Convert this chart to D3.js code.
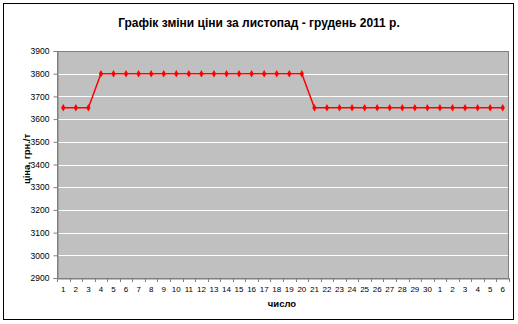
<!DOCTYPE html>
<html><head><meta charset="utf-8">
<script src="https://cdn.jsdelivr.net/npm/d3@7/dist/d3.min.js"></script>
<style>body{margin:0;background:#fff}svg{display:block}</style>
</head><body>
<svg id="c" width="518" height="324"></svg>
<script>
const categories = ["1","2","3","4","5","6","7","8","9","10","11","12","13","14","15","16","17","18","19","20","21","22","23","24","25","26","27","28","29","30","1","2","3","4","5","6"];
const prices = [3650,3650,3650,3800,3800,3800,3800,3800,3800,3800,3800,3800,3800,3800,3800,3800,3800,3800,3800,3800,3650,3650,3650,3650,3650,3650,3650,3650,3650,3650,3650,3650,3650,3650,3650,3650];
const yTicks = [2900,3000,3100,3200,3300,3400,3500,3600,3700,3800,3900];
const titleText = "Графік зміни ціни за листопад - грудень 2011 р.";
const yTitle = "ціна, грн./т";
const xTitle = "число";

const svg = d3.select("#c");
const M = {left:57, right:509, top:51, bottom:278};
const idx = categories.map((d,i)=>i);
const x = d3.scaleBand().domain(idx).range([M.left, M.right]);
const y = d3.scaleLinear().domain([2900,3900]).range([M.bottom, M.top]);

svg.append("rect").attr("x",3.5).attr("y",3.5).attr("width",510).attr("height",316)
  .attr("fill","#fff").attr("stroke","#000").attr("stroke-width",1);

svg.append("rect").attr("x",M.left).attr("y",M.top).attr("width",M.right-M.left).attr("height",M.bottom-M.top)
  .attr("fill","#c0c0c0");

svg.append("g").selectAll("line").data(yTicks.slice(1,-1)).join("line")
  .attr("x1",M.left).attr("x2",M.right).attr("y1",d=>Math.round(y(d))+0.5).attr("y2",d=>Math.round(y(d))+0.5)
  .attr("stroke","#fff").attr("stroke-width",1);

svg.append("rect").attr("x",M.left+0.5).attr("y",M.top+0.5).attr("width",M.right-M.left-1).attr("height",M.bottom-M.top)
  .attr("fill","none").attr("stroke","#808080");

const ya = svg.append("g").attr("transform",`translate(${M.left+0.5},0)`)
  .call(d3.axisLeft(y).tickValues(yTicks).tickSize(4).tickPadding(4).tickFormat(d3.format("d")));
ya.select(".domain").attr("stroke","#808080");
ya.selectAll(".tick line").attr("stroke","#808080");
ya.selectAll("text").attr("font-family","Arial, Liberation Sans").attr("font-size","8.5px").attr("fill","#000");

const xa = svg.append("g").attr("transform",`translate(0,${M.bottom+0.5})`)
  .call(d3.axisBottom(x).tickSize(0).tickPadding(8).tickFormat(i=>categories[i]));
xa.select(".domain").attr("stroke","#808080");
xa.selectAll("text").attr("font-family","Arial, Liberation Sans").attr("font-size","8px").attr("fill","#000");
svg.append("g").selectAll("line").data(d3.range(categories.length+1)).join("line")
  .attr("x1",i=>Math.round(M.left + i*x.step())+0.5).attr("x2",i=>Math.round(M.left + i*x.step())+0.5)
  .attr("y1",M.bottom).attr("y2",M.bottom+4).attr("stroke","#808080");

const line = d3.line().x((d,i)=>x(i)+x.bandwidth()/2).y(d=>y(d));
svg.append("path").datum(prices).attr("d",line).attr("fill","none").attr("stroke","#ff0000").attr("stroke-width",1.5);
svg.append("g").selectAll("path").data(prices).join("path")
  .attr("transform",(d,i)=>`translate(${x(i)+x.bandwidth()/2},${y(d)})`)
  .attr("d",d3.symbol(d3.symbolDiamond,16)).attr("fill","#ff0000");

svg.append("text").attr("x",259).attr("y",27).attr("text-anchor","middle")
  .attr("font-family","Arial, Liberation Sans").attr("font-weight","bold").attr("font-size","12px").text(titleText);
svg.append("text").attr("transform",`translate(30,159) rotate(-90)`).attr("text-anchor","middle")
  .attr("font-family","Arial, Liberation Sans").attr("font-weight","bold").attr("font-size","9.5px").text(yTitle);
svg.append("text").attr("x",282).attr("y",307).attr("text-anchor","middle")
  .attr("font-family","Arial, Liberation Sans").attr("font-weight","bold").attr("font-size","9.5px").text(xTitle);
</script>
</body></html>
